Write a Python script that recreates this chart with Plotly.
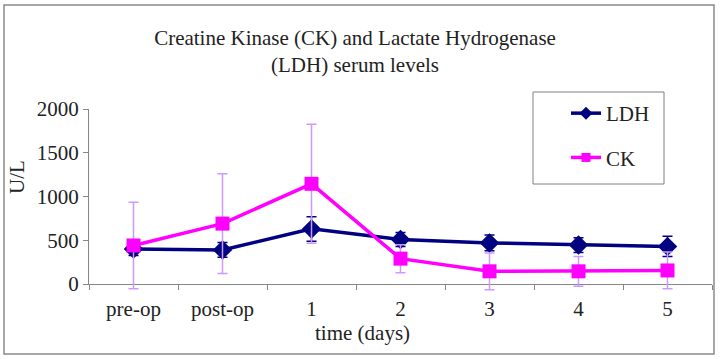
import plotly.graph_objects as go

categories = ["pre-op", "post-op", "1", "2", "3", "4", "5"]
ldh_values = [400, 390, 630, 510, 470, 445, 430]
ldh_errors = [75, 85, 140, 80, 90, 85, 115]
ck_values = [440, 690, 1145, 290, 145, 145, 155]
ck_errors = [495, 570, 680, 160, 210, 170, 210]
y_ticks = [0, 500, 1000, 1500, 2000]

FONT = "Liberation Serif"
TXT = "#222222"
AXIS = "#868686"
LDH_C = "#000080"
CK_C = "#FF00FF"
CK_ERR = "#CC99FF"

W, H = 720, 359
L, R, T, B = 89, 8, 109, 59          # plotting region (extended downward for error bars)
PW, PH = W - L - R, H - T - B
ZERO_PX = 284                          # pixel row of y = 0
YMAX = 2000
d0 = (H - B - ZERO_PX) / PH            # domain start of the visible y axis
y2_min = -YMAX * d0 / (1 - d0)


def px(x):
    return (x - L) / PW


def py(y):
    return (H - B - y) / PH


fig = go.Figure()
# empty trace to keep the visible axis pair alive
fig.add_trace(go.Scatter(x=[], y=[], showlegend=False, hoverinfo="skip"))
fig.add_trace(go.Scatter(
    x=categories, y=ldh_values, name="LDH", mode="lines+markers", yaxis="y2",
    line=dict(color=LDH_C, width=3.5),
    marker=dict(symbol="diamond", size=15, color=LDH_C),
    error_y=dict(type="data", array=ldh_errors, color=LDH_C, thickness=1.5, width=5),
    showlegend=False,
))
fig.add_trace(go.Scatter(
    x=categories, y=ck_values, name="CK", mode="lines+markers", yaxis="y2",
    line=dict(color=CK_C, width=3.5),
    marker=dict(symbol="square", size=14, color=CK_C),
    error_y=dict(type="data", array=ck_errors, color=CK_ERR, thickness=1.5, width=5),
    showlegend=False,
))
# legend entries with smaller symbols
fig.add_trace(go.Scatter(x=[None], y=[None], name="LDH", mode="lines+markers", yaxis="y2",
                         line=dict(color=LDH_C, width=3.5),
                         marker=dict(symbol="diamond", size=10, color=LDH_C),
                         legendgroup="a"))
fig.add_trace(go.Scatter(x=[None], y=[None], name="CK", mode="lines+markers", yaxis="y2",
                         line=dict(color=CK_C, width=3.5),
                         marker=dict(symbol="square", size=9, color=CK_C),
                         legendgroup="b"))

fig.update_layout(
    width=W, height=H,
    margin=dict(l=L, r=R, t=T, b=B),
    paper_bgcolor="white", plot_bgcolor="rgba(0,0,0,0)",
    font=dict(family=FONT, size=20, color=TXT),
    title=dict(
        text="Creatine Kinase (CK) and Lactate Hydrogenase<br>(LDH) serum levels",
        x=355 / W, xref="container", xanchor="center",
        y=1 - 45 / H, yref="container", yanchor="top",
        font=dict(family=FONT, size=21, color=TXT),
    ),
    showlegend=True,
    legend=dict(
        x=px(566), xanchor="left",
        y=py(93), yanchor="top",
        bgcolor="rgba(0,0,0,0)", borderwidth=0,
        font=dict(family=FONT, size=21, color=TXT),
        tracegroupgap=14,
    ),
    xaxis=dict(
        type="category", range=[-0.5, 6.5], anchor="y",
        categoryorder="array", categoryarray=categories,
        showline=True, linecolor=AXIS, linewidth=1,
        ticks="outside", tickson="boundaries", ticklen=5, tickcolor=AXIS,
        ticklabelstandoff=6,
        showgrid=False, zeroline=False,
        tickfont=dict(family=FONT, size=21, color=TXT),
    ),
    yaxis=dict(
        domain=[d0, 1], range=[0, YMAX], tickvals=y_ticks,
        showline=True, linecolor=AXIS, linewidth=1,
        ticks="outside", ticklen=5, tickcolor=AXIS,
        showgrid=False, zeroline=False,
        tickfont=dict(family=FONT, size=21, color=TXT),
    ),
    yaxis2=dict(
        domain=[0, 1], range=[y2_min, YMAX], anchor="x",
        visible=False, showgrid=False, zeroline=False,
    ),
    annotations=[
        dict(text="time (days)", xref="paper", yref="paper",
             x=px(362), y=py(333),
             xanchor="center", yanchor="middle", showarrow=False,
             font=dict(family=FONT, size=21, color=TXT)),
        dict(text="U/L", xref="paper", yref="paper",
             x=px(17), y=py(177), textangle=-90,
             xanchor="center", yanchor="middle", showarrow=False,
             font=dict(family=FONT, size=21, color=TXT)),
    ],
    shapes=[
        dict(type="rect", xref="paper", yref="paper",
             x0=px(4), x1=px(714), y0=py(354), y1=py(5),
             line=dict(color="#8a8a8a", width=1.5), layer="below"),
        dict(type="rect", xref="paper", yref="paper",
             x0=px(533), x1=px(664), y0=py(184), y1=py(92),
             line=dict(color="#808080", width=1), fillcolor="white", layer="below"),
    ],
)

fig.write_html("out.html", config={"displayModeBar": False},
               post_script="document.body.style.margin='0';")
